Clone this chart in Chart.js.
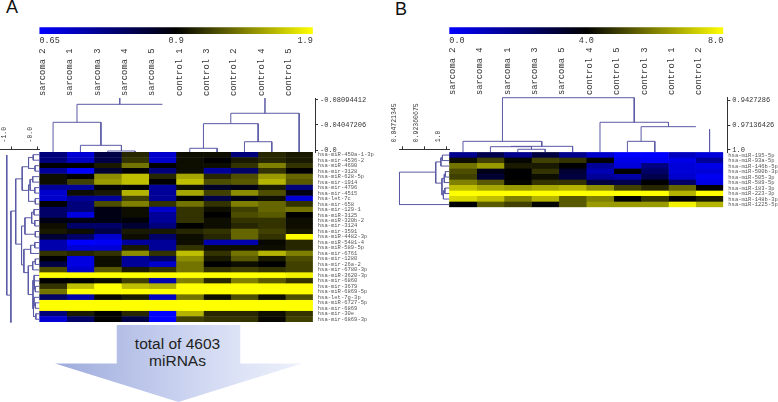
<!DOCTYPE html>
<html>
<head>
<meta charset="utf-8">
<title>miRNA heatmaps</title>
<script src="https://cdn.jsdelivr.net/npm/chart.js@4/dist/chart.umd.min.js"></script>
<style>
    html, body { margin: 0; padding: 0; background: #fff; }
    #page { position: relative; width: 778px; height: 402px; overflow: hidden; }
    canvas { position: absolute; }
    .letter { position: absolute; font: 18px "Liberation Sans", sans-serif; color: #111; line-height: 18px; }
    #arrow {
        position: absolute; left: 55px; top: 325px; width: 247px; height: 77px;
        background: linear-gradient(90deg, #9daadb 0%, #bcc6ea 35%, #dde3f6 75%, #eef1fb 100%);
        clip-path: polygon(25% 0, 75% 0, 75% 50%, 100% 50%, 50% 100%, 0 50%, 25% 50%);
    }
    #arrowText {
        position: absolute; left: 100px; top: 335px; width: 155px; text-align: center;
        font: 15.5px/17px "Liberation Sans", sans-serif; color: #222;
    }
</style>
</head>
<body>
<div id="page">
    <div class="letter" style="left:6px;top:-2px">A</div>
    <div class="letter" style="left:395px;top:0px">B</div>
    <div id="arrow"></div>
    <div id="arrowText">total of 4603<br>miRNAs</div>
</div>
<script>
// ---- panel A ----
const samplesA = ['sarcoma 2', 'sarcoma 1', 'sarcoma 3', 'sarcoma 4', 'sarcoma 5', 'control 1', 'control 3', 'control 2', 'control 4', 'control 5'];
const mirnasA = ['hsa-miR-450a-1-3p', 'hsa-mir-4536-2', 'hsa-miR-4690', 'hsa-mir-3128', 'hsa-miR-628-5p', 'hsa-mir-1914', 'hsa-mir-4796', 'hsa-mir-4515',
    'hsa-let-7c', 'hsa-mir-658', 'hsa-mir-129-1', 'hsa-miR-3125', 'hsa-miR-320b-2', 'hsa-mir-3124', 'hsa-mir-3591', 'hsa-miR-4482-3p',
    'hsa-miR-5481-4', 'hsa-miR-589-5p', 'hsa-mir-6761', 'hsa-mir-1280', 'hsa-mir-26a-2', 'hsa-mir-6780-3p', 'hsa-miR-3620-3p', 'hsa-mir-6860',
    'hsa-mir-3679', 'hsa-miR-6869-5p', 'hsa-let-7g-3p', 'hsa-miR-6727-5p', 'hsa-mir-6869', 'hsa-mir-30e', 'hsa-mir-6869-3p'];
const valuesA = [
    [.78, .69, .83, 1.05, .70, .95, .95, .78, 1.05, 1.00],
    [.78, .71, .83, 1.10, .70, .95, .90, 1.00, 1.05, 1.00],
    [.90, .90, 1.00, 1.35, .90, .95, .95, 1.10, 1.40, 1.10],
    [.75, .65, .85, .90, .78, .95, .75, .80, 1.10, .90],
    [.95, .90, 1.45, 1.65, 1.05, 1.55, 1.05, 1.20, 1.50, 1.30],
    [.95, 1.15, 1.50, 1.65, .90, 1.65, 1.20, 1.25, 1.60, 1.25],
    [.75, .75, .90, .90, .75, .95, .86, .88, 1.00, .78],
    [.70, .95, 1.00, 1.60, .75, 1.55, 1.15, 1.45, 1.20, .88],
    [.70, .75, .75, 1.15, .75, .90, .83, .88, .95, .69],
    [.90, .78, 1.20, 1.40, 1.10, 1.35, 1.10, 1.40, 1.30, 1.10],
    [.80, .78, .88, .95, .70, 1.10, .95, 1.15, 1.30, 1.35],
    [.80, .68, .88, .95, .75, 1.10, .90, 1.20, 1.25, .90],
    [.88, .88, .88, .89, .75, 1.10, .95, 1.10, 1.10, .95],
    [.95, .80, .80, .85, .78, .90, .95, 1.05, 1.10, .95],
    [1.00, .95, .83, 1.00, 1.00, 1.05, 1.10, 1.30, 1.15, 1.00],
    [.85, .80, .70, .95, .80, .95, 1.05, 1.30, 1.10, 1.90],
    [.73, .65, .66, .75, .75, .95, .73, .73, .93, 1.05],
    [.73, .69, .69, 1.00, .75, 1.10, .95, .95, .95, 1.05],
    [1.10, 1.05, 1.10, 1.45, 1.10, 1.65, 1.10, 1.35, 1.60, 1.40],
    [.90, .68, .95, .75, .80, 1.45, 1.00, 1.25, 1.00, 1.20],
    [.83, .68, .95, .75, .70, 1.35, .90, .95, .90, 1.15],
    [1.20, .70, 1.25, 1.00, 1.10, 1.35, 1.10, 1.15, 1.10, 1.15],
    [1.90, 1.90, 1.90, 1.90, 1.90, 1.90, 1.90, 1.90, 1.90, 1.85],
    [.90, .90, .95, 1.15, .73, 1.40, 1.05, 1.40, 1.25, 1.10],
    [1.10, 1.65, 1.90, 1.65, 1.60, 1.90, 1.90, 1.90, 1.90, 1.90],
    [1.35, 1.90, 1.90, 1.90, 1.90, 1.90, 1.90, 1.90, 1.90, 1.90],
    [.80, .73, .93, 1.00, .71, 1.35, .95, 1.20, .95, 1.20],
    [1.90, 1.90, 1.90, 1.90, 1.90, 1.90, 1.90, 1.90, 1.90, 1.90],
    [1.90, 1.90, 1.90, 1.90, 1.90, 1.90, 1.90, 1.90, 1.90, 1.90],
    [.78, 1.00, .90, 1.05, .65, 1.60, 1.05, 1.05, .95, 1.10],
    [.69, .80, .90, .83, .65, 1.15, 1.10, 1.10, .93, 1.15]
];
const rangeA = [0.65, 0.9, 1.9];
const heightTicksA = [0, 0.04047206, 0.08094412];
const heightLabelsA = ['-0.0', '-0.04047206', '-0.08094412'];
const rowTicksA = [-1, 0];
const rowTickLabelsA = ['-1.0', '-0.0'];
// merges: [from, to, height, height of from child, height of to child]
const leafTopA = -0.0032, rootTopA = 0.0841;
const colTreeA = [
    [2.5, 3.5, -0.0016, leafTopA, leafTopA],
    [1.5, 3, 0.0076, leafTopA, -0.0016],
    [0.5, 2.25, 0.0448, leafTopA, 0.0076],
    [1.375, 4.5, 0.0739, 0.0448, 0.0739],
    [2.94, 2.94, rootTopA, 0.0739, 0.0739],
    [5.5, 6.5, 0.0028, leafTopA, leafTopA],
    [7.5, 8.5, 0.0134, leafTopA, leafTopA],
    [6, 8, 0.0426, 0.0028, 0.0134],
    [7, 9.5, 0.0594, 0.0426, leafTopA],
    [8.25, 8.25, rootTopA, 0.0594, 0.0594]
];
const leafSideA = 0.054;
const rowTreeA = [
    [0.5, 1.5, -0.18, leafSideA, leafSideA],
    [2.5, 3.5, -0.11, leafSideA, leafSideA],
    [1, 3, -0.36, -0.18, -0.11],
    [4.5, 5.5, -0.2, leafSideA, leafSideA],
    [6.5, 7.5, -0.12, leafSideA, leafSideA],
    [5, 7, -0.3, -0.2, -0.12],
    [8.5, 9.5, -0.1, leafSideA, leafSideA],
    [6, 9, -0.36, -0.3, -0.1],
    [2.7, 7, -0.605, -0.36, -0.36],
    [10.5, 11.5, -0.15, leafSideA, leafSideA],
    [12.5, 13.5, -0.12, leafSideA, leafSideA],
    [11, 13, -0.24, -0.15, -0.12],
    [14.5, 15.5, -0.1, leafSideA, leafSideA],
    [12, 15, -0.5, -0.24, -0.1],
    [16.5, 17.5, -0.12, leafSideA, leafSideA],
    [17, 18.5, -0.28, -0.12, leafSideA],
    [19.5, 20.5, -0.1, leafSideA, leafSideA],
    [20, 21.5, -0.2, -0.1, leafSideA],
    [24.5, 25.5, -0.1, leafSideA, leafSideA],
    [23.5, 25, -0.14, leafSideA, -0.1],
    [22.5, 24.25, -0.15, leafSideA, -0.14],
    [27.5, 28.5, -0.1, leafSideA, leafSideA],
    [26.5, 28, -0.15, leafSideA, -0.1],
    [29.5, 30.5, -0.08, leafSideA, leafSideA],
    [27.25, 30, -0.17, -0.15, -0.08],
    [23.4, 28.6, -0.19, -0.15, -0.17],
    [20.75, 26, -0.37, -0.2, -0.19],
    [17.75, 22, -0.54, -0.28, -0.37],
    [13.5, 20.6, -0.63, -0.5, -0.54],
    [4.9, 16.8, -0.855, -0.605, -0.63],
    [10.77, 31.1, -1.04, -0.855, -1.04],
    [0.55, 26.1, -1.2, -1.2, -1.04]
];

// ---- panel B ----
const samplesB = ['sarcoma 2', 'sarcoma 4', 'sarcoma 1', 'sarcoma 3', 'sarcoma 5', 'control 4', 'control 5', 'control 3', 'control 1', 'control 2'];
const mirnasB = ['hsa-miR-195-5p', 'hsa-miR-93a-5p', 'hsa-miR-146b-5p', 'hsa-miR-500b-3p', 'hsa-miR-505-3p', 'hsa-miR-589-5p', 'hsa-miR-183-3p', 'hsa-miR-223-3p', 'hsa-miR-148b-3p', 'hsa-miR-1225-5p'];
const valuesB = [
    [1.8, 2.8, 1.8, 3.0, 1.8, .8, 0, 0, 1.0, .6],
    [4.2, 5, 4.1, 5, 4.8, 4, .4, .2, .4, 1.6],
    [5.8, 6.4, 4.4, 4.4, 4, 1.6, .6, 2, .6, .4],
    [5.2, 3.6, 4, 4.8, 3.2, 1.2, 4, 2.4, .6, .6],
    [5, 3.2, 4, 4.2, 3, 1.6, 1.4, 2.8, .8, .2],
    [6, 5.4, 4.1, 4.8, 4.8, 3, 2.8, 4, 2.4, .4],
    [7, 6.6, 6.4, 6.6, 6.8, 6.2, 5, 4.6, 5.6, 4],
    [8, 8, 8, 8, 8, 8, 8, 8, 6.8, 8],
    [7.4, 7, 6, 6.8, 5.4, 6, 4, 4.8, 4, 4.4],
    [4, 5.4, 5, 4.1, 5.4, 6.4, 6.4, 6.4, 7.8, 6.8]
];
const rangeB = [0, 4, 8];
const heightTicksB = [0.9427286, 0.97136426, 1.0];
const heightLabelsB = ['0.9427286', '0.97136426', '1.0'];
const rowTicksB = [0.84721345, 0.92360675, 1.0];
const rowTickLabelsB = ['0.84721345', '0.92360675', '1.0'];
const leafTopB = 1.00267;
const colTreeB = [
    [2.5, 3.5, 0.9995, leafTopB, leafTopB],
    [1.5, 3, 0.9965, leafTopB, 0.9995],
    [2.25, 4.5, 0.9961, 0.9965, leafTopB],
    [0.5, 3.375, 0.9903, leafTopB, 0.9961],
    [6.5, 7.5, 0.9903, leafTopB, leafTopB],
    [9.5, 9.5, 0.9763, leafTopB, leafTopB],
    [7, 9, 0.9733, 0.9903, 0.9733],
    [5.5, 8, 0.9682, leafTopB, 0.9733],
    [1.94, 6.75, 0.9397, 0.9903, 0.9682]
];
const leafSideB = 1.0103;
const rowTreeB = [
    [0.5, 1.5, 0.9866, leafSideB, leafSideB],
    [1, 2.5, 0.9813, 0.9866, leafSideB],
    [3.5, 4.5, 0.9969, leafSideB, leafSideB],
    [4, 5.5, 0.993, 0.9969, leafSideB],
    [6.5, 7.5, 0.995, leafSideB, leafSideB],
    [7, 8.5, 0.99, 0.995, leafSideB],
    [4.75, 7.75, 0.985, 0.993, 0.99],
    [1.75, 5.6, 0.9635, 0.9813, 0.985],
    [3.6, 9.5, 0.8385, 0.9635, leafSideB]
];

// ---- shared ----
const MONO = '"Liberation Mono", monospace';
const TREE_COLOR = '#5a5aa6';
const TEXT_COLOR = '#333';

Chart.defaults.animation = false;
Chart.defaults.responsive = false;
Chart.defaults.plugins.legend.display = false;
Chart.defaults.plugins.tooltip.enabled = false;

function addCanvas(left, top, width, height) {
    const canvas = document.createElement('canvas');
    canvas.width = width;
    canvas.height = height;
    canvas.style.left = left + 'px';
    canvas.style.top = top + 'px';
    canvas.style.width = width + 'px';
    canvas.style.height = height + 'px';
    document.getElementById('page').appendChild(canvas);
    return canvas;
}

// blue -> black -> yellow, black sitting on the middle value of the range
function heatColor(v, range) {
    const s = v < range[1]
        ? (v - range[1]) / (range[1] - range[0])
        : (v - range[1]) / (range[2] - range[1]);
    const k = Math.round(Math.min(Math.abs(s), 1) * 255);
    return s < 0 ? `rgb(0,0,${k})` : `rgb(${k},${k},0)`;
}

function treeDatasets(merges, horizontal) {
    return merges.map(m => {
        const [from, to, h, hFrom, hTo] = m;
        const pts = [[from, hFrom], [from, h], [to, h], [to, hTo]];
        return {
            data: pts.map(p => horizontal ? { x: p[1], y: p[0] } : { x: p[0], y: p[1] }),
            showLine: true,
            borderColor: TREE_COLOR,
            borderWidth: 1,
            pointRadius: 0,
            clip: false
        };
    });
}

function drawColorbar(canvas, range, pad) {
    new Chart(canvas, {
        type: 'bar',
        data: {
            labels: [''],
            datasets: [{
                data: [[0, 1]],
                barPercentage: 1,
                categoryPercentage: 1,
                backgroundColor: ctx => {
                    const area = ctx.chart.chartArea;
                    if (!area) return '#000';
                    const g = ctx.chart.ctx.createLinearGradient(area.left, 0, area.right, 0);
                    g.addColorStop(0, '#0000ff');
                    g.addColorStop(0.5, '#000000');
                    g.addColorStop(1, '#ffff00');
                    return g;
                }
            }]
        },
        options: {
            indexAxis: 'y',
            layout: { padding: pad },
            scales: {
                y: { display: false },
                x: {
                    type: 'linear', min: 0, max: 1,
                    grid: { display: false, drawTicks: false },
                    border: { display: false },
                    afterBuildTicks: axis => { axis.ticks = [0, 0.5, 1].map(value => ({ value })); },
                    ticks: {
                        align: 'inner',
                        padding: 2,
                        maxRotation: 0,
                        autoSkip: false,
                        color: TEXT_COLOR,
                        font: { family: MONO, size: 8.5 },
                        callback: (v, i) => range[i].toFixed(range[i] === 0.65 ? 2 : 1)
                    },
                    afterFit: axis => { axis.height = 12; }
                }
            }
        }
    });
}

function drawHeatmap(canvas, samples, mirnas, values, range, pad, labelWidth) {
    new Chart(canvas, {
        type: 'bar',
        data: {
            labels: mirnas,
            datasets: samples.map((name, c) => ({
                label: name,
                data: mirnas.map(() => 1),
                backgroundColor: values.map(row => heatColor(row[c], range)),
                borderColor: values.map(row => heatColor(row[c], range)),
                borderWidth: 0.4,
                borderSkipped: false,
                barPercentage: 1,
                categoryPercentage: 1
            }))
        },
        options: {
            indexAxis: 'y',
            layout: { padding: pad },
            scales: {
                x: { type: 'linear', min: 0, max: samples.length, stacked: true, display: false },
                y: {
                    position: 'right',
                    stacked: true,
                    grid: { display: false, drawTicks: false },
                    border: { display: false },
                    ticks: { autoSkip: false, padding: 5, color: '#555', font: { family: MONO, size: 5.5 } },
                    afterFit: axis => { axis.width = labelWidth; }
                }
            }
        }
    });
}

function drawColTree(canvas, o) {
    new Chart(canvas, {
        type: 'scatter',
        data: { datasets: treeDatasets(o.tree, false) },
        options: {
            layout: { padding: o.pad },
            scales: {
                x: {
                    type: 'linear', position: 'top', min: 0, max: o.xMax,
                    grid: { display: false, drawTicks: false },
                    border: { display: false },
                    afterBuildTicks: axis => { axis.ticks = o.samples.map((s, i) => ({ value: i + 0.5 })); },
                    ticks: {
                        autoSkip: false, minRotation: 90, maxRotation: 90, padding: 2,
                        color: TEXT_COLOR,
                        font: { family: MONO, size: 8.8 },
                        callback: (v, i) => o.samples[i]
                    },
                    afterFit: axis => { axis.height = o.headHeight; }
                },
                y: {
                    type: 'linear', position: 'right', min: o.yMin, max: o.yMax, reverse: o.reverse,
                    grid: { drawOnChartArea: false, tickLength: 3, color: '#333' },
                    border: { display: true, color: '#333' },
                    afterBuildTicks: axis => { axis.ticks = o.ticks.map(value => ({ value })); },
                    ticks: {
                        autoSkip: false, padding: 2,
                        color: TEXT_COLOR,
                        font: { family: MONO, size: 7 },
                        callback: (v, i) => o.labels[i]
                    },
                    afterFit: axis => { axis.width = o.axisWidth; }
                }
            }
        }
    });
}

function drawRowTree(canvas, o) {
    new Chart(canvas, {
        type: 'scatter',
        data: { datasets: treeDatasets(o.tree, true) },
        options: {
            layout: { padding: o.pad },
            scales: {
                y: { type: 'linear', min: o.rowMin, max: o.rowMax, reverse: true, display: false },
                x: {
                    type: 'linear', position: 'top', min: o.xMin, max: o.xMax,
                    grid: { drawOnChartArea: false, tickLength: 3, color: '#333' },
                    border: { display: true, color: '#333' },
                    afterBuildTicks: axis => { axis.ticks = o.ticks.map(value => ({ value })); },
                    ticks: {
                        autoSkip: false, minRotation: 90, maxRotation: 90, padding: 4,
                        color: TEXT_COLOR,
                        font: { family: MONO, size: 6.5 },
                        callback: (v, i) => o.labels[i]
                    },
                    afterFit: axis => { axis.height = o.headHeight; }
                }
            }
        }
    });
}

// ---- panel A layout ----
drawColorbar(addCanvas(0, 24, 360, 24), rangeA, { left: 39.4, right: 47.2, top: 3.3, bottom: 2 });
drawColTree(addCanvas(20, 36, 370, 126), {
    tree: colTreeA, samples: samplesA, xMax: 10.08, yMin: leafTopA, yMax: rootTopA, reverse: false,
    ticks: heightTicksA, labels: heightLabelsA,
    pad: { left: 19.4, right: 0, top: 0, bottom: 10 }, headHeight: 62, axisWidth: 75
});
drawHeatmap(addCanvas(30, 140, 360, 195), samplesA, mirnasA, valuesA, rangeA,
    { left: 9.4, right: 0, top: 12, bottom: 13 }, 77.2);
drawRowTree(addCanvas(0, 105, 42, 220), {
    tree: rowTreeA, xMin: -1.46, xMax: 0.054, rowMin: -0.45, rowMax: 31,
    ticks: rowTicksA, labels: rowTickLabelsA,
    pad: { left: 0, right: 2.6, top: 0, bottom: 3 }, headHeight: 44.5
});

// ---- panel B layout ----
drawColorbar(addCanvas(420, 24, 340, 24), rangeB, { left: 29.3, right: 36.7, top: 3.3, bottom: 2 });
drawColTree(addCanvas(430, 36, 348, 126), {
    tree: colTreeB, samples: samplesB, xMax: 10.146, yMin: 0.93888, yMax: leafTopB, reverse: true,
    ticks: heightTicksB, labels: heightLabelsB,
    pad: { left: 19.3, right: 0, top: 0, bottom: 10 }, headHeight: 61, axisWidth: 50.7
});
drawHeatmap(addCanvas(440, 140, 338, 80), samplesB, mirnasB, valuesB, rangeB,
    { left: 9.3, right: 0, top: 12.3, bottom: 12.7 }, 54.7);
drawRowTree(addCanvas(390, 90, 62, 120), {
    tree: rowTreeB, xMin: 0.8378, xMax: leafSideB, rowMin: -0.55, rowMax: 10,
    ticks: rowTicksB, labels: rowTickLabelsB,
    pad: { left: 4, right: 2.7, top: 0, bottom: 2.7 }, headHeight: 59.3
});
</script>
</body>
</html>
